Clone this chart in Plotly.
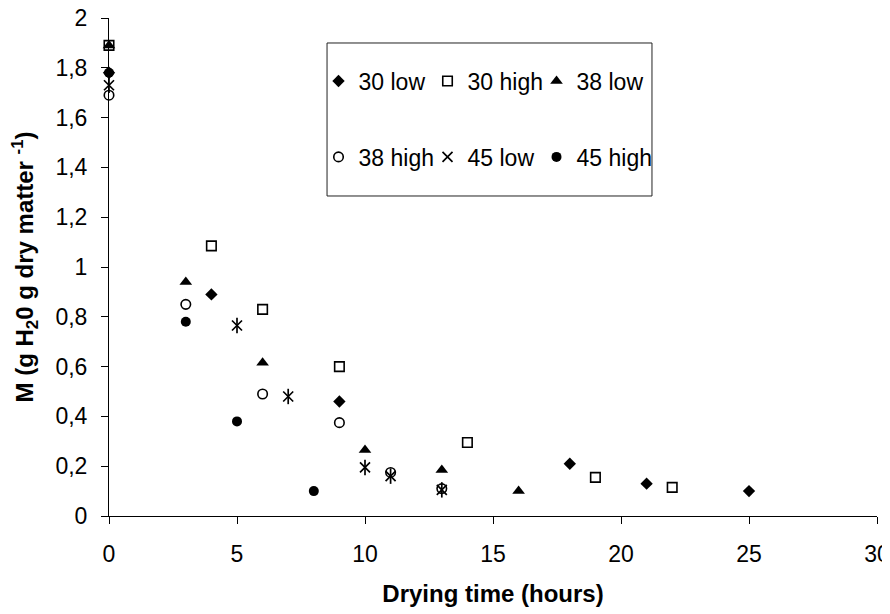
import plotly.graph_objects as go

# ---- data ----
x_30_low = [0, 4, 9, 18, 21, 25]
y_30_low = [1.78, 0.89, 0.46, 0.21, 0.13, 0.10]

x_30_high = [0, 4, 6, 9, 14, 19, 22]
y_30_high = [1.89, 1.085, 0.83, 0.60, 0.295, 0.155, 0.115]

x_38_low = [0, 3, 6, 10, 13, 16]
y_38_low = [1.89, 0.94, 0.615, 0.265, 0.185, 0.10]

x_38_high = [0, 3, 6, 9, 11, 13]
y_38_high = [1.69, 0.85, 0.49, 0.375, 0.175, 0.11]

x_45_low = [0, 5, 7, 10, 11, 13]
y_45_low = [1.73, 0.765, 0.48, 0.195, 0.16, 0.105]

x_45_high = [0, 3, 5, 8]
y_45_high = [1.78, 0.78, 0.38, 0.10]

x_ticks = [0, 5, 10, 15, 20, 25, 30]

FONT = "Arial, Liberation Sans, sans-serif"

fig = go.Figure()

def add(x, y, name, symbol, size, legend, lw=0, lwidth=None, showlegend=True):
    fig.add_trace(go.Scatter(
        x=x, y=y, mode="markers", name=name, legend=legend,
        showlegend=showlegend, legendgroup=name, cliponaxis=False,
        legendwidth=lwidth,
        marker=dict(symbol=symbol, size=size, color="black",
                    line=dict(color="black", width=lw)),
    ))

add(x_30_low, y_30_low, "30 low", "diamond", 9.5, "legend")
add(x_30_high, y_30_high, "30 high", "square-open", 9.5, "legend", lw=1.6)
add(x_38_low, y_38_low, "38 low", "triangle-up", 11, "legend", lwidth=90)
add(x_38_high, y_38_high, "38 high", "circle-open", 9.5, "legend2", lw=1.6)
# asterisk marker: X plus vertical bar
fig.add_trace(go.Scatter(
    x=x_45_low, y=y_45_low, mode="markers", name="45 low", legend="legend2",
    legendgroup="45 low", cliponaxis=False,
    marker=dict(symbol="x-thin-open", size=10, color="black",
                line=dict(color="black", width=1.7)),
))
fig.add_trace(go.Scatter(
    x=x_45_low, y=y_45_low, mode="markers", name="45 low", legend="legend2",
    legendgroup="45 low", showlegend=False, cliponaxis=False,
    marker=dict(symbol="line-ns-open", size=11, color="black",
                line=dict(color="black", width=1.7)),
))
add(x_45_high, y_45_high, "45 high", "circle", 10, "legend2", lwidth=90)

# legend frame
fig.add_shape(type="rect", xref="paper", yref="paper",
              x0=0.2839, x1=0.707, y0=0.6426, y1=0.9498,
              line=dict(color="#222", width=1), fillcolor="white", layer="below")

legend_common = dict(orientation="h", xanchor="left", yanchor="middle",
                     entrywidth=64, entrywidthmode="pixels",
                     bgcolor="rgba(0,0,0,0)", borderwidth=0,
                     font=dict(family=FONT, size=23, color="black"),
                     itemsizing="trace", valign="middle", tracegroupgap=0)

fig.update_layout(
    width=890, height=614,
    margin=dict(l=101, r=21, t=10, b=106, autoexpand=False),
    paper_bgcolor="white", plot_bgcolor="white",
    separators=",.",
    font=dict(family=FONT, color="black"),
    legend=dict(x=0.2728, y=0.8735, **legend_common),
    legend2=dict(x=0.2728, y=0.721, **legend_common),
    xaxis=dict(
        range=[0, 30], tickvals=x_ticks, showgrid=False, zeroline=False,
        showline=True, linecolor="black", linewidth=1, automargin=False,
        ticks="outside", ticklen=7, tickcolor="black", tickwidth=1,
        tickfont=dict(family=FONT, size=23, color="black"),
        ticklabelstandoff=10, ticklabeloverflow="allow",
        title=dict(text="<b>Drying time (hours)</b>", standoff=19,
                   font=dict(family=FONT, size=24, color="black")),
    ),
    yaxis=dict(
        range=[0, 2], dtick=0.2, tick0=0, showgrid=False, zeroline=False,
        showline=True, linecolor="black", linewidth=1, automargin=False,
        ticks="outside", ticklen=7, tickcolor="black", tickwidth=1,
        tickfont=dict(family=FONT, size=23, color="black"),
        ticklabelstandoff=9, ticklabeloverflow="allow",
        title=dict(text="<b>M (g H<sub>2</sub>0 g dry matter <sup>-1</sup>)</b>", standoff=20,
                   font=dict(family=FONT, size=24, color="black")),
    ),
)

fig.write_html("out.html")
